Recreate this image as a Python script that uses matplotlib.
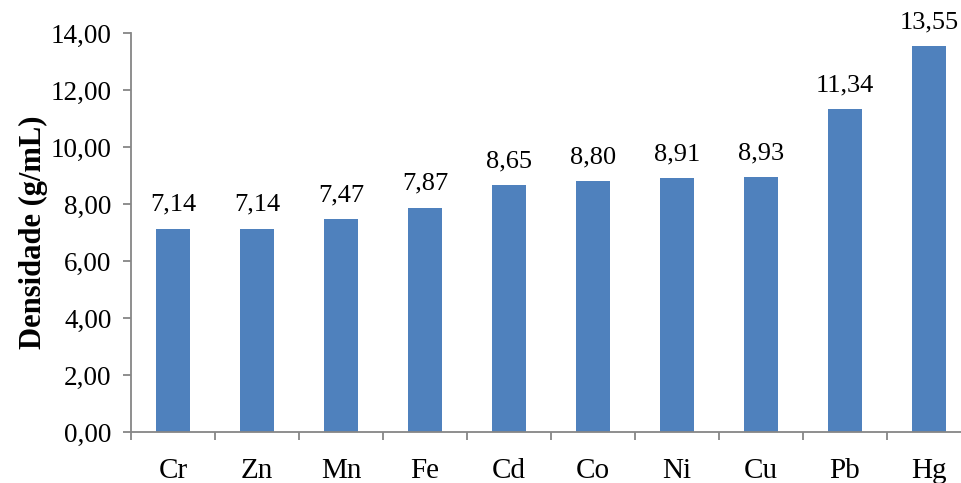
import matplotlib
matplotlib.use("Agg")
import matplotlib.pyplot as plt
from matplotlib.ticker import FixedLocator, FuncFormatter

plt.rcParams['font.family'] = ['Liberation Serif', 'DejaVu Serif']

elements = ["Cr", "Zn", "Mn", "Fe", "Cd", "Co", "Ni", "Cu", "Pb", "Hg"]
densities = [7.14, 7.14, 7.47, 7.87, 8.65, 8.80, 8.91, 8.93, 11.34, 13.55]
y_ticks = [0, 2, 4, 6, 8, 10, 12, 14]

W, H = 962, 483
fig = plt.figure(figsize=(W / 100, H / 100), dpi=100)
ax = fig.add_axes([131 / W, 51 / H, 840 / W, 399 / H])

axis_color = "#868686"
bar_color = "#4F81BD"

x = list(range(len(elements)))
ax.bar(x, densities, width=0.4, color=bar_color, zorder=2)

for xi, v in zip(x, densities):
    ax.text(xi, v + 0.45, f"{v:.2f}".replace(".", ","), ha="center", va="bottom",
            fontsize=19, color="black")

ax.set_xlim(-0.5, len(elements) - 0.5)
ax.set_ylim(0, 14)

ax.set_yticks(y_ticks)
ax.yaxis.set_major_formatter(FuncFormatter(lambda v, p: f"{v:.2f}".replace(".", ",")))

ax.set_xticks(x)
ax.set_xticklabels(elements)
ax.xaxis.set_minor_locator(FixedLocator([i - 0.5 for i in range(len(elements) + 1)]))
ax.tick_params(axis="x", which="major", length=0, pad=19, labelsize=21)
ax.tick_params(axis="x", which="minor", length=6, width=1.3, color=axis_color, direction="out")
ax.tick_params(axis="y", length=6, width=1.3, color=axis_color, direction="out", pad=8, labelsize=19.5)

for side in ["top", "right"]:
    ax.spines[side].set_visible(False)
for side in ["left", "bottom"]:
    ax.spines[side].set_color(axis_color)
    ax.spines[side].set_linewidth(1.3)

ax.set_ylabel("Densidade (g/mL)", fontsize=22, fontweight="bold", labelpad=2)

fig.savefig("out.png", dpi=100)
